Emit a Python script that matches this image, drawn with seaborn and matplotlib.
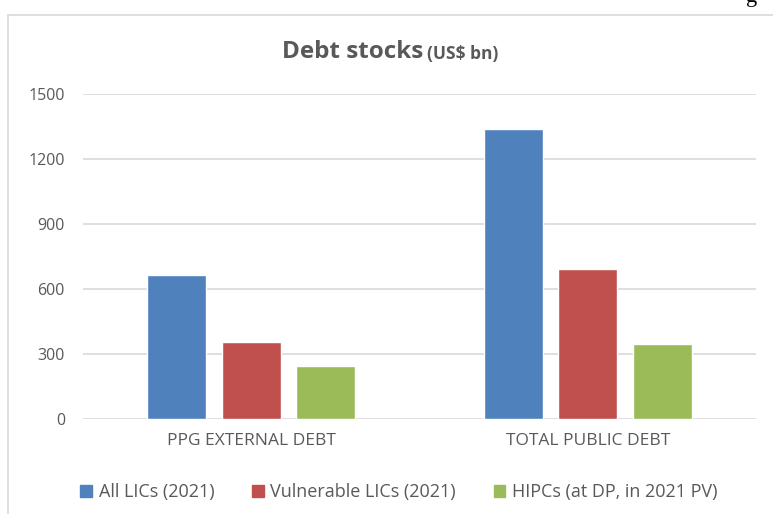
import matplotlib
matplotlib.use("Agg")
import matplotlib.pyplot as plt
import seaborn as sns
import pandas as pd
from matplotlib.patches import Rectangle

# data
categories = ["PPG EXTERNAL DEBT", "TOTAL PUBLIC DEBT"]
series = ["All LICs (2021)", "Vulnerable LICs (2021)", "HIPCs (at DP, in 2021 PV)"]
all_lics = [665, 1338]
vulnerable_lics = [355, 692]
hipcs = [243, 346]
yticks = [0, 300, 600, 900, 1200, 1500]
colors = ["#4F81BD", "#C0504D", "#9BBB59"]

df = pd.DataFrame({
    "category": categories * 3,
    "group": [series[0]] * 2 + [series[1]] * 2 + [series[2]] * 2,
    "value": all_lics + vulnerable_lics + hipcs,
})

sns.set_style("white")
plt.rcParams["font.family"] = ["Open Sans", "DejaVu Sans"]
text_color = "#595959"

fig = plt.figure(figsize=(7.73, 5.14), dpi=100)
ax = fig.add_axes([0.1074, 0.1848, 0.8706, 0.6323])

sns.barplot(data=df, x="category", y="value", hue="group", order=categories,
            hue_order=series, palette=colors, width=0.664, gap=0.21,
            saturation=1, legend=False, ax=ax)

ax.set_ylim(0, 1500)
ax.set_yticks(yticks)
ax.set_yticklabels([str(t) for t in yticks])
ax.set_xlabel("")
ax.set_ylabel("")
ax.grid(axis="y", color="#d9d9d9", linewidth=1.2)
ax.set_axisbelow(True)
for s in ax.spines.values():
    s.set_visible(False)
ax.tick_params(axis="both", length=0, labelcolor=text_color)
ax.tick_params(axis="y", pad=13, labelsize=11.5)
ax.tick_params(axis="x", pad=10, labelsize=12.5)

# title in two parts
fig.text(0.547, 0.898, "Debt stocks", ha="right", va="center", fontsize=17.5,
         fontweight="bold", color=text_color)
fig.text(0.553, 0.895, "(US$ bn)", ha="left", va="center", fontsize=12.5,
         fontweight="bold", color=text_color)

# legend
handles = [Rectangle((0, 0), 1, 1, color=c) for c in colors]
fig.legend(handles, series, loc="center", bbox_to_anchor=(0.516, 0.043), ncol=3,
           frameon=False, fontsize=13, handlelength=0.65, handleheight=0.65,
           handletextpad=0.35, columnspacing=2.1, labelcolor=text_color)

# chart frame
fig.add_artist(plt.Line2D([0.0104, 1.0], [0.971, 0.971], color="#d9d9d9", linewidth=1.2))
fig.add_artist(plt.Line2D([0.0104, 0.0104], [0.0, 0.971], color="#d9d9d9", linewidth=1.2))

# cut-off letter from the surrounding page
fig.text(0.972, 1.005, "g", ha="center", va="center", fontsize=16, color="black",
         family=["Liberation Serif", "DejaVu Serif"])

fig.savefig("out.png", dpi=100)
